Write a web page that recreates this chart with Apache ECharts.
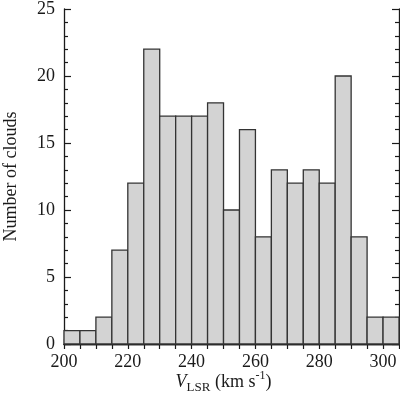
<!DOCTYPE html>
<html>
<head>
<meta charset="utf-8">
<script src="https://cdn.jsdelivr.net/npm/echarts@6/dist/echarts.min.js"></script>
<style>html,body{margin:0;padding:0;background:#fff;}#c{width:400px;height:394px;}</style>
</head>
<body>
<div id="c"></div>
<script>
var binStarts = [200,205,210,215,220,225,230,235,240,245,250,255,260,265,270,275,280,285,290,295,300];
var binEnds   = [205,210,215,220,225,230,235,240,245,250,255,260,265,270,275,280,285,290,295,300,305];
var counts    = [1,1,2,7,12,22,17,17,17,18,10,16,8,13,12,13,12,20,8,2,2];
var xTickLabels = [200,220,240,260,280,300];
var yTickLabels = [0,5,10,15,20,25];

var FONT = 'Liberation Serif';
var INK = '#1a1a1a';
var data = binStarts.map(function(s,i){ return [s, binEnds[i], counts[i]]; });

var chart = echarts.init(document.getElementById('c'), null, {renderer:'canvas'});
var axisLine = {show:true, lineStyle:{color:INK, width:1.3}};
chart.setOption({
  animation:false,
  grid:{left:64, right:1, top:9, bottom:50, containLabel:false, outerBoundsMode:'none'},
  xAxis:[{
    type:'value', min:200, max:305, interval:5, position:'bottom',
    axisLine:axisLine,
    axisTick:{show:true, inside:true, length:5, lineStyle:{color:INK, width:1.2}},
    splitLine:{show:false},
    axisLabel:{margin:9, color:INK, fontFamily:FONT, fontSize:18,
      formatter:function(v){ return xTickLabels.indexOf(v) >= 0 ? String(v) : ''; }},
    name:'{v|V}{sub|LSR}{n| (km s}{sup|-1}{n|)}',
    nameLocation:'middle', nameGap:26, nameMoveOverlap:false,
    nameTextStyle:{color:INK, fontFamily:FONT, padding:[0,16,0,0], rich:{
      v:{fontFamily:FONT, fontStyle:'italic', fontSize:18, lineHeight:24, color:INK},
      n:{fontFamily:FONT, fontSize:18, lineHeight:24, color:INK},
      sub:{fontFamily:FONT, fontSize:13, lineHeight:14, verticalAlign:'bottom', color:INK},
      sup:{fontFamily:FONT, fontSize:12, lineHeight:14, verticalAlign:'top', color:INK}
    }}
  },{
    type:'value', min:200, max:305, interval:5, position:'top',
    axisLine:axisLine,
    axisTick:{show:true, inside:true, length:5, lineStyle:{color:INK, width:1.2}},
    splitLine:{show:false}, axisLabel:{show:false}
  }],
  yAxis:[{
    type:'value', min:0, max:25, interval:5, position:'left',
    axisLine:axisLine,
    axisTick:{show:true, inside:true, length:7, lineStyle:{color:INK, width:1.2}},
    minorTick:{show:true, splitNumber:5, length:4, lineStyle:{color:INK, width:1.2}},
    splitLine:{show:false},
    axisLabel:{margin:9, color:INK, fontFamily:FONT, fontSize:18,
      formatter:function(v){ return yTickLabels.indexOf(v) >= 0 ? String(v) : ''; }},
    name:'Number of clouds', nameLocation:'middle', nameGap:44, nameMoveOverlap:false,
    nameTextStyle:{color:INK, fontFamily:FONT, fontSize:18}
  },{
    type:'value', min:0, max:25, interval:5, position:'right',
    axisLine:axisLine,
    axisTick:{show:true, inside:true, length:7, lineStyle:{color:INK, width:1.2}},
    minorTick:{show:true, splitNumber:5, length:4, lineStyle:{color:INK, width:1.2}},
    splitLine:{show:false}, axisLabel:{show:false}
  }],
  series:[{
    type:'custom', xAxisIndex:0, yAxisIndex:0,
    encode:{x:[0,1], y:2},
    data:data,
    renderItem:function(params, api){
      var p0 = api.coord([api.value(0), api.value(2)]);
      var p1 = api.coord([api.value(1), 0]);
      return {type:'rect', shape:{x:p0[0], y:p0[1], width:p1[0]-p0[0], height:p1[1]-p0[1]},
        style:{fill:'#d3d3d3', stroke:'#333', lineWidth:1.3}};
    }
  }]
});
</script>
</body>
</html>
